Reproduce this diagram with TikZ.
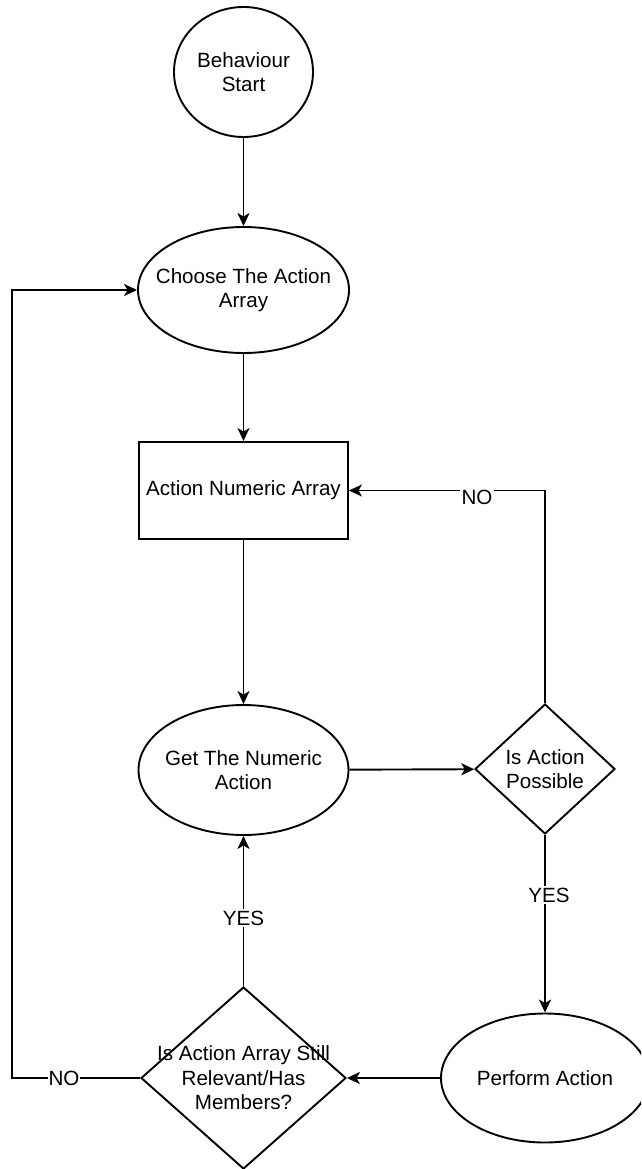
\documentclass[tikz,border=0pt]{standalone}
\usepackage{fontspec}
\setmainfont{Liberation Sans}
\usetikzlibrary{shapes.geometric,arrows.meta}
\begin{document}
\begin{tikzpicture}[x=1pt,y=-1pt,
  every node/.style={font=\fontsize{20.6}{24.5}\selectfont},
  shp/.style={draw=black, line width=1.9pt, inner sep=0pt, fill=white},
  ell/.style={shp, ellipse},
  box/.style={shp, rectangle},
  dia/.style={shp, diamond},
  txt/.style={align=center, inner sep=0pt},
  lbl/.style={fill=white, inner sep=1.5pt},
  conn/.style={line width=1.9pt, -{Stealth[length=13pt,width=12pt,inset=3.5pt]}},
  plain/.style={line width=1.9pt}]
\clip (0,0) rectangle (641,1169);
\fill[white] (0,0) rectangle (641,1169);

\node[ell, minimum width=139pt, minimum height=130pt] (start) at (243.5,72) {};
\node[txt] (startT) at (start) {Behaviour\\Start};

\node[ell, minimum width=211pt, minimum height=126pt] (choose) at (243.5,290) {};
\node[txt] (chooseT) at (choose) {Choose The Action\\Array};

\node[box, minimum width=209pt, minimum height=97pt] (arr) at (243.5,490.5) {Action Numeric Array};

\node[ell, minimum width=210pt, minimum height=130pt] (getn) at (243.5,770) {};
\node[txt] (getnT) at (getn) {Get The Numeric\\Action};

\node[dia, minimum width=140pt, minimum height=130pt] (poss) at (545,769) {};
\node[txt] (possT) at (poss) {Is Action\\Possible};

\node[ell, minimum width=208pt, minimum height=129pt] (perf) at (545,1078) {};
\node[txt] (perfT) at (perf) {Perform Action};

\node[dia, minimum width=205pt, minimum height=182pt] (rel) at (243.5,1078) {};
\node[txt] (relT) at (rel) {Is Action Array Still\\Relevant/Has\\Members?};

\coordinate (lc) at (12,1078);

\draw[conn] (start) -- (choose);
\draw[conn] (choose) -- (arr);
\draw[conn] (arr) -- (getn);
\draw[conn] (getn) -- (poss);
\draw[conn] (poss.north) |- (arr.east);
\draw[conn] (poss.south) -- (perf.north);
\draw[conn] (perf.west) -- (rel.east);
\draw[conn] (rel.north) -- (getn.south);
\draw[conn] (rel.west) -- (lc) |- (choose.west);

\node[lbl] (no1) at (477,497) {NO};
\node[lbl] (yes1) at (549,895) {YES};
\node[lbl] (yes2) at (243.5,918) {YES};
\node[lbl, inner sep=0.5pt] (no2) at (64,1078) {NO};
\end{tikzpicture}
\end{document}
